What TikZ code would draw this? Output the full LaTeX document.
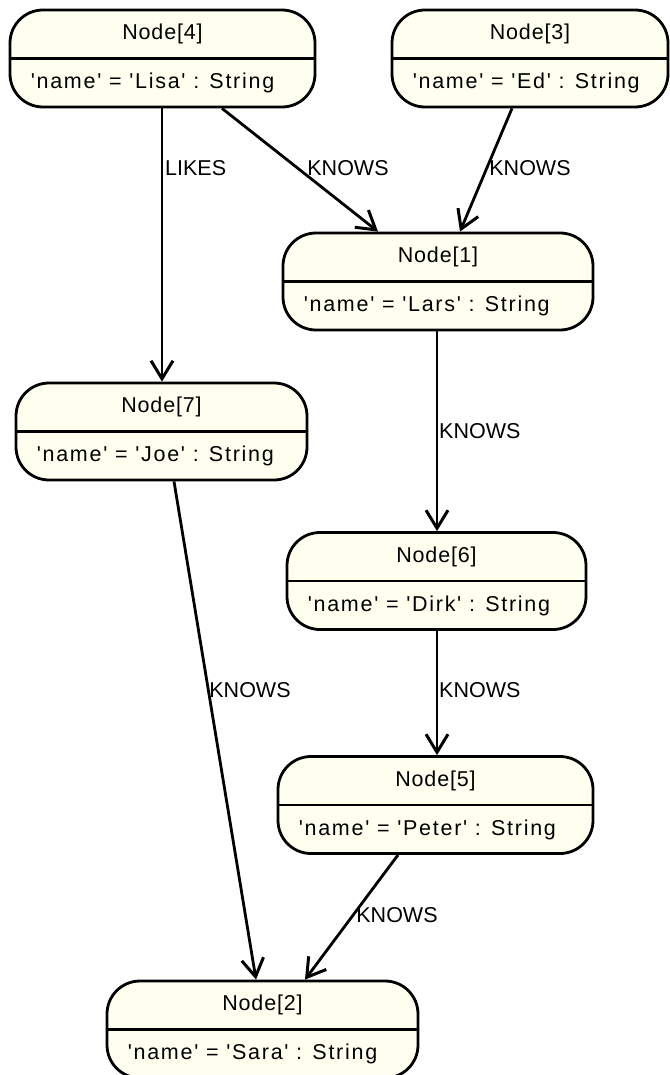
\documentclass[tikz,border=0pt]{standalone}
\usepackage{fontspec}
\setmainfont{Liberation Sans}
\newfontfamily\titlefont[LetterSpace=4]{Liberation Sans}
\newfontfamily\attrfont[LetterSpace=8]{Liberation Sans}
\usetikzlibrary{arrows.meta}
\definecolor{boxfill}{RGB}{255,255,240}
\tikzset{
  entity/.style={draw=black, line width=2.8pt, fill=boxfill, rounded corners=33pt,
    inner sep=0pt, minimum height=97pt},
  ttl/.style={font=\titlefont\fontsize{21.5}{24}\selectfont, inner sep=0pt},
  attr/.style={font=\attrfont\fontsize{21.5}{24}\selectfont, inner sep=0pt, anchor=west},
  divider/.style={line width=2.8pt},
  edge/.style={line width=2.8pt, -{Straight Barb[length=18pt,width=22pt,line width=3pt]}},
  elabel/.style={font=\fontsize{21.5}{24}\selectfont, inner sep=0pt}
}
\newcommand{\entitybox}[6]{% name, cx, cy, width, title, attribute
  \node[entity, minimum width=#4] (#1) at (#2,#3) {};
  \draw[divider] (#1.west) -- (#1.east);
  \node[ttl] (#1t) at ([yshift=24.5pt]#1.center) {#5};
  \node[attr] (#1a) at ([xshift=22pt,yshift=-24.5pt]#1.west) {#6};
}
\begin{document}
\begin{tikzpicture}[x=1pt,y=-1pt]
\useasboundingbox (0,0) rectangle (669,1075);
\entitybox{n4}{162.5}{58.5}{305pt}{Node[4]}{'name' = 'Lisa' : String}
\entitybox{n3}{530}{58.5}{276pt}{Node[3]}{'name' = 'Ed' : String}
\entitybox{n1}{438}{281.5}{310pt}{Node[1]}{'name' = 'Lars' : String}
\entitybox{n7}{161.5}{431.5}{291pt}{Node[7]}{'name' = 'Joe' : String}
\entitybox{n6}{436.5}{581}{299pt}{Node[6]}{'name' = 'Dirk' : String}
\entitybox{n5}{435.5}{805}{315pt}{Node[5]}{'name' = 'Peter' : String}
\entitybox{n2}{262.5}{1029.5}{311pt}{Node[2]}{'name' = 'Sara' : String}

\draw[edge] ([xshift=-0.5pt]n4.south) -- ([xshift=0.5pt]n7.north);
\draw[edge] ([xshift=59.5pt]n4.south) -- ([xshift=-60pt]n1.north);
\draw[edge] ([xshift=-18pt]n3.south) -- ([xshift=22pt]n1.north);
\draw[edge] ([xshift=-1pt]n1.south) -- ([xshift=0.5pt]n6.north);
\draw[edge] ([xshift=0.5pt]n6.south) -- ([xshift=1.5pt]n5.north);
\draw[edge] ([xshift=12.5pt]n7.south) -- ([xshift=-6.5pt]n2.north);
\draw[edge] ([xshift=-37.5pt]n5.south) -- ([xshift=42.5pt]n2.north);

\node[elabel, anchor=west] (l1) at (165,168) {LIKES};
\node[elabel] (l2) at (348,168) {KNOWS};
\node[elabel] (l3) at (530,168) {KNOWS};
\node[elabel, anchor=west] (l4) at (439,431) {KNOWS};
\node[elabel, anchor=west] (l5) at (439,690) {KNOWS};
\node[elabel] (l6) at (250,690) {KNOWS};
\node[elabel] (l7) at (397,915) {KNOWS};
\end{tikzpicture}
\end{document}
